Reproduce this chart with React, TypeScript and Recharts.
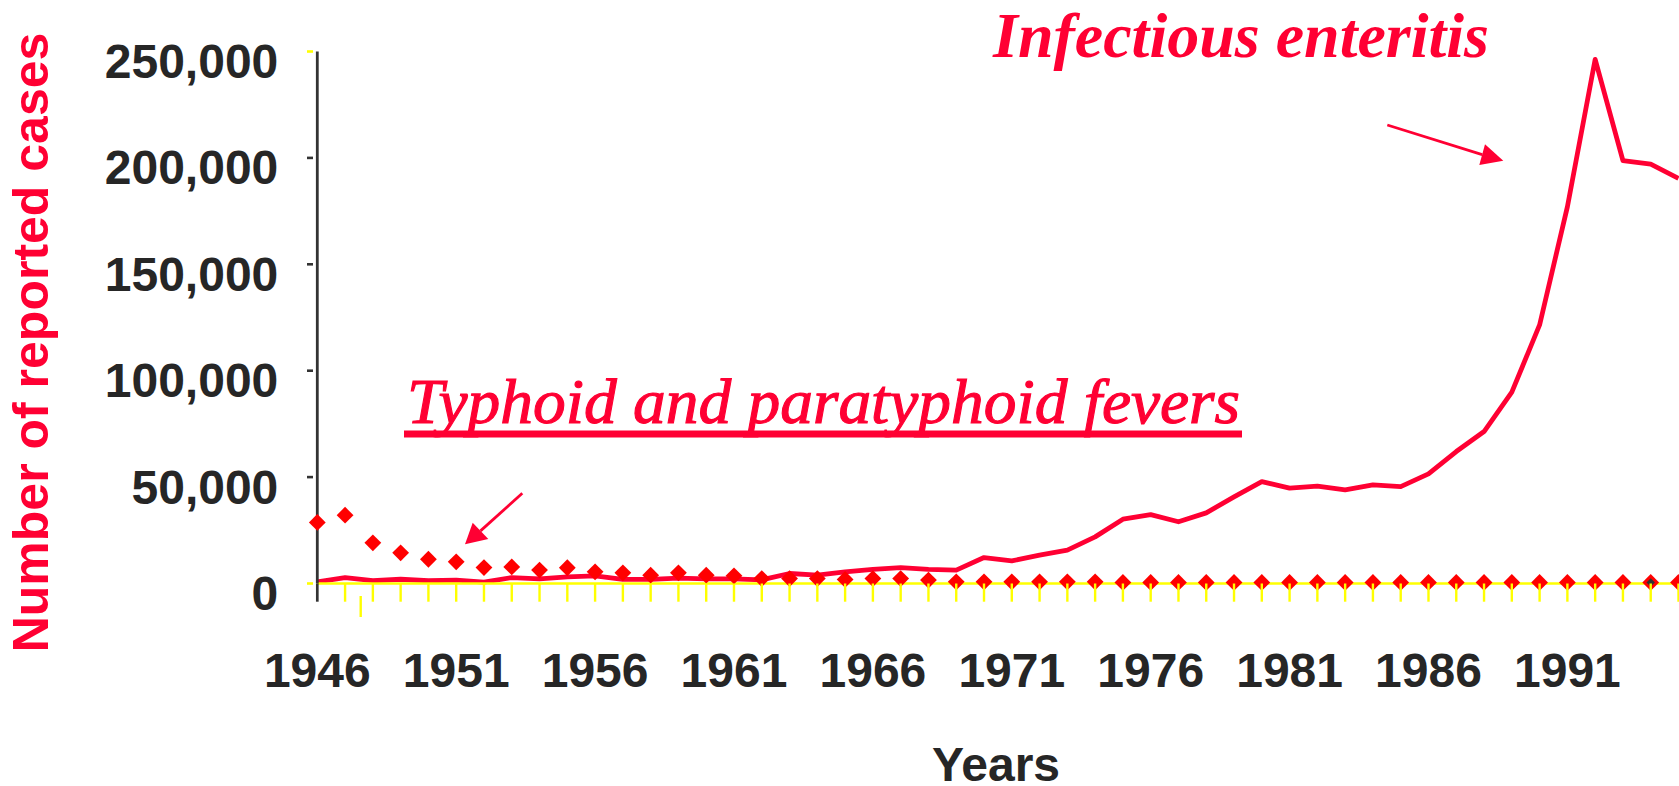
import React from 'react';
import { ComposedChart, Line, XAxis, YAxis } from 'recharts';

const years = [
  1946, 1947, 1948, 1949, 1950, 1951, 1952, 1953, 1954, 1955,
  1956, 1957, 1958, 1959, 1960, 1961, 1962, 1963, 1964, 1965,
  1966, 1967, 1968, 1969, 1970, 1971, 1972, 1973, 1974, 1975,
  1976, 1977, 1978, 1979, 1980, 1981, 1982, 1983, 1984, 1985,
  1986, 1987, 1988, 1989, 1990, 1991, 1992, 1993, 1994, 1995,
];

const enteritisCases = [
  800, 2800, 1300, 2000, 1300, 1600, 600, 2800, 2200, 3100,
  3600, 1900, 1900, 2500, 2200, 2200, 1700, 4700, 3900, 5500,
  6600, 7500, 6600, 6300, 12200, 10600, 13300, 15700, 21900, 30200,
  32400, 29000, 33200, 40700, 47900, 44800, 45800, 44000, 46300, 45500,
  51500, 62000, 71400, 89900, 121500, 177000, 246300, 198700, 197100, 190400,
];

const typhoidCases = [
  28700, 32100, 19100, 14400, 11400, 10200, 7500, 7800, 6300, 7400,
  5500, 5000, 3900, 5000, 3900, 3600, 2300, 2300, 2300, 1900,
  2300, 2300, 1600, 800, 800, 800, 800, 800, 800, 500,
  500, 500, 500, 500, 500, 500, 500, 500, 500, 500,
  500, 500, 500, 500, 500, 500, 500, 500, 500, 500,
];

const yTicks = [0, 50000, 100000, 150000, 200000, 250000];
const labeledYears = [1946, 1951, 1956, 1961, 1966, 1971, 1976, 1981, 1986, 1991];

const data = years.map((year, i) => ({
  year,
  enteritis: enteritisCases[i],
  typhoid: typhoidCases[i],
}));

const RED = '#FF0033';
const YELLOW = '#FFFF00';
const DARK = '#262626';
const SANS = '"Liberation Sans", Arial, Helvetica, sans-serif';
const SERIF = '"Liberation Serif", "Times New Roman", Times, serif';

const fmt = (v: number) => v.toLocaleString('en-US');

const YTick = (props: any) => {
  const { x, y, payload } = props;
  const v = payload.value;
  const edge = v === 0 || v === 250000;
  return (
    <g>
      <line x1={x - 10.3} x2={x - 4.3} y1={y} y2={y} stroke={edge ? YELLOW : '#333'} strokeWidth={2.6} />
      <text x={x - 39} y={y + 26.5} textAnchor="end" fontFamily={SANS} fontWeight="bold" fontSize={48} fill={DARK}>
        {fmt(v)}
      </text>
    </g>
  );
};

const XTick = (props: any) => {
  const { x, y, payload } = props;
  const yr = payload.value;
  const first = yr === years[0];
  return (
    <g>
      <line x1={x} x2={x} y1={y} y2={y + 18.2} stroke={first ? '#333' : YELLOW} strokeWidth={first ? 2.7 : 2.4} />
      {labeledYears.includes(yr) && (
        <text x={x} y={y + 103.5} textAnchor="middle" fontFamily={SANS} fontWeight="bold" fontSize={48} fill={DARK}>
          {yr}
        </text>
      )}
    </g>
  );
};

const Diamond = (props: any) => {
  const { cx, cy, payload, index } = props;
  if (cx == null || cy == null) return <g key={`d-${index}`} />;
  const r = 8.4;
  const r2 = 4.2;
  return (
    <g key={`d-${index}`}>
      <polygon points={`${cx},${cy - r} ${cx + r},${cy} ${cx},${cy + r} ${cx - r},${cy}`} fill="#FF0000" />
      {payload && payload.year === 1994 && (
        <polygon points={`${cx},${cy - r2} ${cx + r2},${cy} ${cx},${cy + r2} ${cx - r2},${cy}`} fill="#333" />
      )}
    </g>
  );
};

export default function App() {
  return (
    <div style={{ position: 'absolute', left: 0, top: 0, width: 1679, height: 786, overflow: 'hidden', background: '#fff' }}>
      <ComposedChart
        width={1679}
        height={786}
        data={data}
        margin={{ top: 51.5, right: 0.5, bottom: 102.5, left: 0 }}
      >
        <XAxis
          dataKey="year"
          type="number"
          domain={[1946, 1995]}
          ticks={years}
          interval={0}
          height={100}
          tickSize={0}
          tickMargin={0}
          tickLine={false}
          axisLine={{ stroke: YELLOW, strokeWidth: 2.7 }}
          tick={<XTick />}
        />
        <YAxis
          type="number"
          domain={[0, 250000]}
          ticks={yTicks}
          width={317.3}
          tickSize={0}
          tickMargin={0}
          tickLine={false}
          axisLine={{ stroke: '#333', strokeWidth: 2.8 }}
          tick={<YTick />}
        />
        <Line
          dataKey="enteritis"
          type="linear"
          stroke={RED}
          strokeWidth={4.8}
          strokeLinejoin="round"
          dot={false}
          activeDot={false}
          isAnimationActive={false}
        />
        <Line
          dataKey="typhoid"
          type="linear"
          stroke="none"
          strokeWidth={0}
          dot={(p: any) => <Diamond key={`dm-${p.index}`} {...p} />}
          activeDot={false}
          isAnimationActive={false}
        />
      </ComposedChart>
      <svg width={1679} height={786} style={{ position: 'absolute', left: 0, top: 0, pointerEvents: 'none' }}>
        <text
          transform="translate(48,342.5) rotate(-90)"
          textAnchor="middle"
          fontFamily={SANS}
          fontWeight="bold"
          fontSize={50}
          fill={RED}
        >
          Number of reported cases
        </text>
        <text x={996} y={781} textAnchor="middle" fontFamily={SANS} fontWeight="bold" fontSize={48} fill={DARK}>
          Years
        </text>
        <text x={993} y={57.3} fontFamily={SERIF} fontStyle="italic" fontWeight="bold" fontSize={64} fill={RED} textLength={496} lengthAdjust="spacingAndGlyphs">
          Infectious enteritis
        </text>
        <text x={407} y={423} fontFamily={SERIF} fontStyle="italic" fontSize={64} fill={RED} stroke={RED} strokeWidth={1.1} textLength={833} lengthAdjust="spacingAndGlyphs">
          Typhoid and paratyphoid fevers
        </text>
        <rect x={404} y={430.5} width={838} height={7} fill={RED} />
        <line x1={522.3} y1={493.3} x2={480.5} y2={530.9} stroke={RED} strokeWidth={2.8} />
        <polygon points="465,544.3 472.7,522.7 488.3,539" fill={RED} />
        <line x1={1387.3} y1={125} x2={1482.2} y2={154.7} stroke={RED} strokeWidth={2.8} />
        <polygon points="1503.3,160.7 1485,144.3 1479.3,165" fill={RED} />
        <line x1={360.7} x2={360.7} y1={596} y2={617} stroke={YELLOW} strokeWidth={2.4} />
      </svg>
    </div>
  );
}
